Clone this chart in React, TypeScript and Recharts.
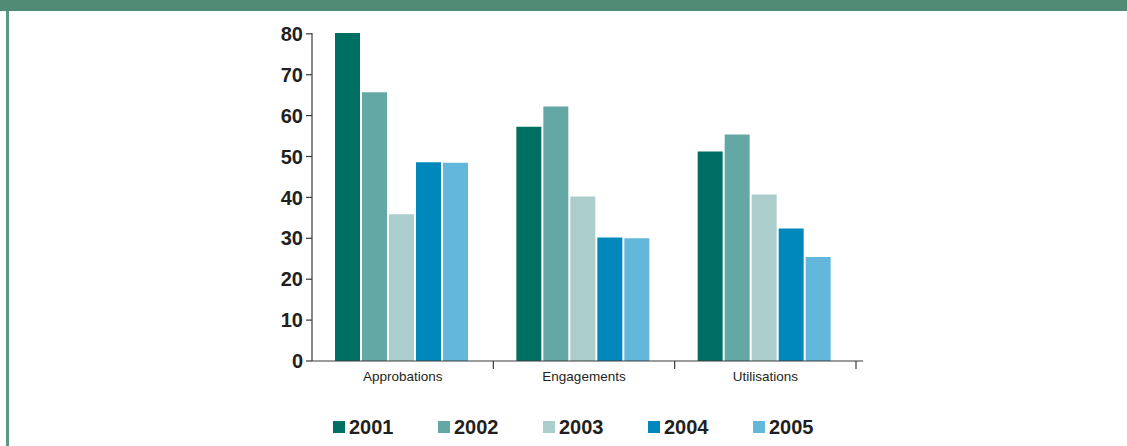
import React from "react";
import { BarChart, Bar, XAxis, YAxis, Legend } from "recharts";

const categories = ["Approbations", "Engagements", "Utilisations"];
const years = ["2001", "2002", "2003", "2004", "2005"];
const values2001 = [80.2, 57.3, 51.2];
const values2002 = [65.7, 62.2, 55.4];
const values2003 = [35.9, 40.2, 40.7];
const values2004 = [48.6, 30.2, 32.4];
const values2005 = [48.5, 30.0, 25.4];
const yTicks = [0, 10, 20, 30, 40, 50, 60, 70, 80];

const colors = ["#006f63", "#63a8a5", "#abcdcc", "#0088bd", "#62b7db"];
const seriesValues = [values2001, values2002, values2003, values2004, values2005];

const data = categories.map((name, i) => {
  const row: Record<string, string | number> = { name };
  years.forEach((y, s) => {
    row[y] = seriesValues[s][i];
  });
  return row;
});

const WIDTH = 1127;
const HEIGHT = 446;
const PLOT_WIDTH = 551;
const AXIS_PAD_RIGHT = 7;
const BAND = (PLOT_WIDTH - AXIS_PAD_RIGHT) / categories.length;
const AXIS_COLOR = "#3a3a3a";
const TEXT_COLOR = "#231f20";

// category label centred in the band, with a separator tick at the band's right edge
const CategoryTick = (props: any) => {
  const { x, y, payload } = props;
  const edge = x + BAND / 2;
  return (
    <g>
      <line x1={edge} y1={y - 10} x2={edge} y2={y - 2} stroke={AXIS_COLOR} strokeWidth={1.2} />
      <text
        x={x}
        y={y}
        dy="0.71em"
        textAnchor="middle"
        fill={TEXT_COLOR}
        fontFamily="'Liberation Sans', Arial, sans-serif"
        fontSize={13.5}
      >
        {payload.value}
      </text>
    </g>
  );
};

const YearLegend = () => (
  <div style={{ display: "flex", alignItems: "center", height: 30, paddingLeft: 333 }}>
    {years.map((y, i) => (
      <div key={y} style={{ display: "flex", alignItems: "center", width: 105 }}>
        <span style={{ width: 12, height: 12, background: colors[i], marginRight: 4 }} />
        <span
          style={{
            fontFamily: "'Liberation Sans', Arial, sans-serif",
            fontWeight: "bold",
            fontSize: 20,
            color: TEXT_COLOR,
            lineHeight: "20px",
          }}
        >
          {y}
        </span>
      </div>
    ))}
  </div>
);

const App: React.FC = () => {
  return (
    <div
      style={{
        position: "absolute",
        left: 0,
        top: 0,
        width: WIDTH,
        height: HEIGHT,
        background: "#ffffff",
        overflow: "hidden",
      }}
    >
      {/* header band and left rule */}
      <div style={{ position: "absolute", left: 0, top: 0, width: WIDTH, height: 11, background: "#4f8b75" }} />
      <div style={{ position: "absolute", left: 6, top: 11, width: 2.5, height: HEIGHT - 11, background: "#5a9882" }} />

      <BarChart
        width={WIDTH}
        height={HEIGHT}
        data={data}
        margin={{ top: 33, right: WIDTH - 312 - PLOT_WIDTH, bottom: 4, left: 0 }}
        barCategoryGap={23}
        barGap={2}
      >
        <XAxis
          dataKey="name"
          height={51}
          padding={{ left: 0, right: AXIS_PAD_RIGHT }}
          tickLine={false}
          tickSize={8}
          tickMargin={2}
          axisLine={{ stroke: AXIS_COLOR, strokeWidth: 1.2 }}
          tick={<CategoryTick />}
          interval={0}
        />
        <YAxis
          width={312}
          domain={[0, 80]}
          ticks={yTicks}
          interval={0}
          tickSize={6}
          tickMargin={3}
          stroke={AXIS_COLOR}
          axisLine={{ stroke: AXIS_COLOR, strokeWidth: 1.2 }}
          tickLine={{ stroke: AXIS_COLOR, strokeWidth: 1.2 }}
          tick={{
            fill: TEXT_COLOR,
            fontFamily: "'Liberation Sans', Arial, sans-serif",
            fontWeight: "bold",
            fontSize: 20,
          }}
        />
        <Legend
          verticalAlign="bottom"
          content={<YearLegend />}
          wrapperStyle={{ left: 0, bottom: 4, width: WIDTH, height: 30 }}
        />
        {years.map((y, i) => (
          <Bar key={y} dataKey={y} fill={colors[i]} isAnimationActive={false} />
        ))}
      </BarChart>
    </div>
  );
};

export default App;
